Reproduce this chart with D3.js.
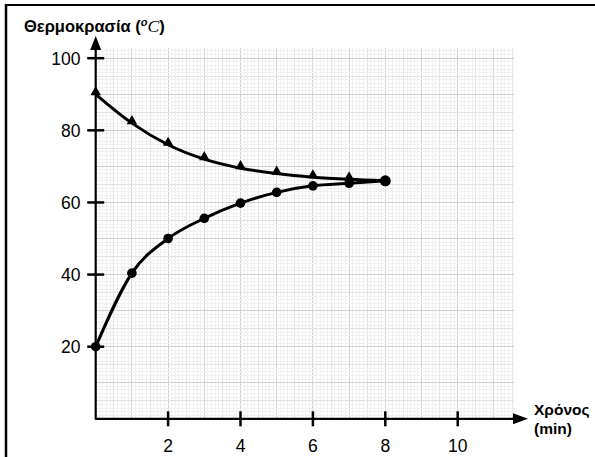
<!DOCTYPE html>
<html>
<head>
<meta charset="utf-8">
<script src="https://cdn.jsdelivr.net/npm/d3@7"></script>
<style>
  body { margin: 0; background: #fff; }
  svg { display: block; font-family: Arial, "Liberation Sans", sans-serif; }
</style>
</head>
<body>
<svg width="595" height="457"></svg>
<script>
// data
const times = [0, 1, 2, 3, 4, 5, 6, 7, 8];
const hotTemps = [90, 82, 76, 72, 69.5, 68, 67, 66.4, 66];   // triangles (last point has no marker)
const coldTemps = [20, 40.4, 50, 55.6, 59.8, 62.8, 64.6, 65.3, 66]; // circles
const xTicks = [2, 4, 6, 8, 10];
const yTicks = [20, 40, 60, 80, 100];

const svg = d3.select("svg");

const x = d3.scaleLinear().domain([0, 10]).range([95.7, 457.7]);
const y = d3.scaleLinear().domain([20, 100]).range([346.7, 58.2]);

// frame
svg.append("line").attr("x1", 5).attr("x2", 595).attr("y1", 5).attr("y2", 5)
  .attr("stroke", "#000").attr("stroke-width", 2);
svg.append("line").attr("x1", 6).attr("x2", 6).attr("y1", 4).attr("y2", 457)
  .attr("stroke", "#000").attr("stroke-width", 2.5);

// graph paper
const gxMax = 11.55, gyMax = 102.8;
const grid = svg.append("g").attr("shape-rendering", "crispEdges");
function gridColor(i) {
  return i % 10 === 0 ? "#cfcfcf" : (i % 5 === 0 ? "#e2e2e2" : "#f0f0f0");
}
d3.range(0, gxMax, 0.1).forEach((t, i) => {
  grid.append("line").attr("x1", x(t)).attr("x2", x(t)).attr("y1", y(0)).attr("y2", y(gyMax))
    .attr("stroke", gridColor(i)).attr("stroke-width", 1);
});
d3.range(0, gyMax, 1).forEach((v, i) => {
  grid.append("line").attr("x1", x(0)).attr("x2", x(gxMax)).attr("y1", y(v)).attr("y2", y(v))
    .attr("stroke", gridColor(i)).attr("stroke-width", 1);
});

// axes
const axes = svg.append("g").attr("stroke", "#000");
axes.append("line").attr("x1", x(0)).attr("x2", 516).attr("y1", y(0)).attr("y2", y(0)).attr("stroke-width", 2.2);
axes.append("line").attr("x1", x(0)).attr("x2", x(0)).attr("y1", y(0) + 1).attr("y2", 48).attr("stroke-width", 2.2);
svg.append("path").attr("d", `M528,${y(0)} L513,${y(0) - 5.5} L513,${y(0) + 5.5} Z`).attr("fill", "#000");
svg.append("path").attr("d", `M${x(0)},36 L${x(0) - 5.5},50 L${x(0) + 5.5},50 Z`).attr("fill", "#000");

xTicks.forEach(t => {
  axes.append("line").attr("x1", x(t)).attr("x2", x(t)).attr("y1", y(0) - 7.5).attr("y2", y(0) + 7.5).attr("stroke-width", 2.5);
  svg.append("text").attr("x", x(t)).attr("y", 452).attr("text-anchor", "middle")
    .attr("font-size", 17.5).text(t);
});
yTicks.forEach(v => {
  axes.append("line").attr("x1", x(0) - 8.5).attr("x2", x(0) + 8.5).attr("y1", y(v)).attr("y2", y(v)).attr("stroke-width", 2.5);
  svg.append("text").attr("x", 80.5).attr("y", y(v) + 6.3).attr("text-anchor", "end")
    .attr("font-size", 17.5).text(v);
});

// titles
const yt = svg.append("text").attr("x", 24).attr("y", 32).attr("font-size", 16.5).attr("font-weight", "bold");
yt.append("tspan").text("Θερμοκρασία (");
yt.append("tspan").attr("font-style", "italic").attr("font-size", 11).attr("dy", -6).text("o");
yt.append("tspan").attr("font-style", "italic").attr("font-family", "'Liberation Serif', serif").attr("font-weight", "normal").attr("font-size", 17.5).attr("dy", 6).text("C");
yt.append("tspan").text(")");
svg.append("text").attr("x", 534).attr("y", 415).attr("font-size", 15.5).attr("font-weight", "bold").text("Χρόνος");
svg.append("text").attr("x", 534).attr("y", 434).attr("font-size", 15.5).attr("font-weight", "bold").text("(min)");

// curves
const line = d3.line().x(d => x(d[0])).y(d => y(d[1])).curve(d3.curveMonotoneX);
const hot = times.map((t, i) => [t, hotTemps[i]]);
const cold = times.map((t, i) => [t, coldTemps[i]]);
svg.append("path").attr("d", line(hot)).attr("fill", "none").attr("stroke", "#000").attr("stroke-width", 3);
svg.append("path").attr("d", line(cold)).attr("fill", "none").attr("stroke", "#000").attr("stroke-width", 3);

const tri = d3.symbol().type(d3.symbolTriangle).size(48);
svg.selectAll(".tri").data(hot.slice(0, 8)).enter().append("path")
  .attr("transform", d => `translate(${x(d[0])},${y(d[1]) - 2})`)
  .attr("d", tri).attr("fill", "#000");
svg.selectAll(".dot").data(cold).enter().append("circle")
  .attr("cx", d => x(d[0])).attr("cy", d => y(d[1]))
  .attr("r", (d, i) => i === cold.length - 1 ? 5.5 : 4.8).attr("fill", "#000");
</script>
</body>
</html>
